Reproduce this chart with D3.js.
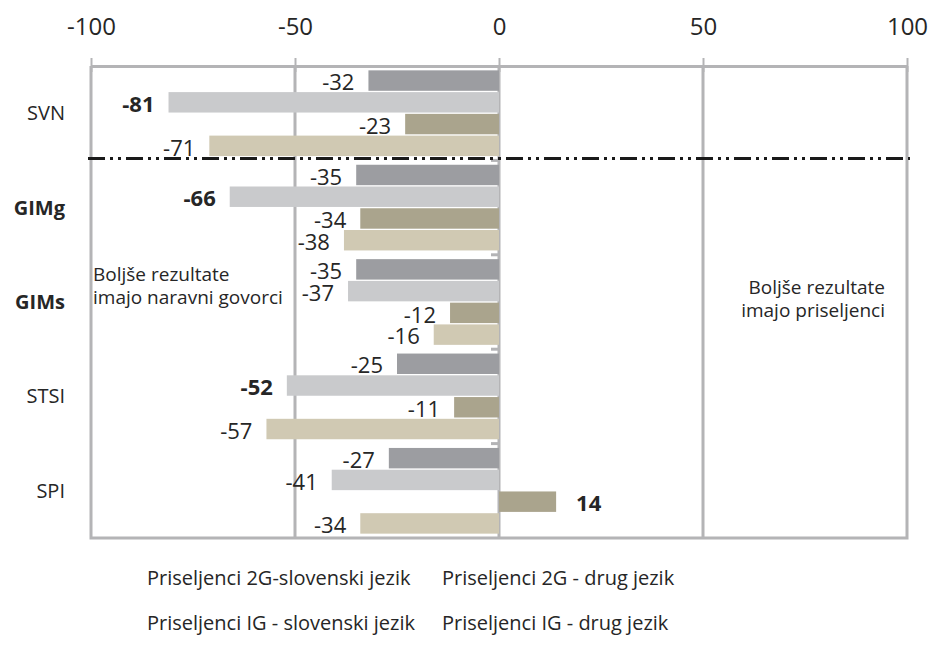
<!DOCTYPE html>
<html>
<head>
<meta charset="utf-8">
<script src="https://cdn.jsdelivr.net/npm/d3@7"></script>
<style>
  body { margin: 0; background: #fff; }
  svg { display: block; }
  text { font-family: "Open Sans", "Noto Sans", sans-serif; fill: #262626; }
</style>
</head>
<body>
<svg id="chart" width="928" height="657"></svg>
<script>
// ---- data ----
const categories = ["SVN", "GIMg", "GIMs", "STSI", "SPI"];
const boldCategories = ["GIMg", "GIMs"];
const seriesNames = [
  "Priseljenci 2G-slovenski jezik",
  "Priseljenci 2G - drug jezik",
  "Priseljenci IG - slovenski jezik",
  "Priseljenci IG - drug jezik"
];
const s2GSlo   = [-32, -35, -35, -25, -27];
const s2GDrug  = [-81, -66, -37, -52, -41];
const sIGSlo   = [-23, -34, -12, -11, 14];
const sIGDrug  = [-71, -38, -16, -57, -34];
const significant = [["SVN", 1], ["GIMg", 1], ["STSI", 1], ["SPI", 2]];
const tickValues = [-100, -50, 0, 50, 100];
const annotationLeft = ["Boljše rezultate", "imajo naravni govorci"];
const annotationRight = ["Boljše rezultate", "imajo priseljenci"];
const colors = ["#9c9da1", "#c9cacc", "#aaa48d", "#d0c9b3"];

const seriesValues = [s2GSlo, s2GDrug, sIGSlo, sIGDrug];
const rows = [];
categories.forEach((c, ci) => {
  seriesValues.forEach((vals, si) => {
    rows.push({cat: c, s: si, v: vals[ci],
      bold: significant.some(p => p[0] === c && p[1] === si)});
  });
});

// ---- layout ----
const svg = d3.select("#chart");
const pLeft = 91, pRight = 907, pTop = 66, pBottom = 538;
const x = d3.scaleLinear().domain([-100, 100]).range([pLeft, pRight]);
const y = d3.scaleBand().domain(categories).range([pTop, pBottom]).padding(0);
const ys = d3.scaleBand().domain(d3.range(seriesNames.length))
  .range([0, y.bandwidth()]).paddingInner(0.06).paddingOuter(0.2);

const gridColor = "#b4b4b6";

// gridlines
svg.append("g").selectAll("line").data([-50, 0, 50]).join("line")
  .attr("x1", d => x(d)).attr("x2", d => x(d))
  .attr("y1", pTop).attr("y2", pBottom)
  .attr("stroke", gridColor).attr("stroke-width", 3);

// frame left/right/bottom
svg.append("path")
  .attr("d", `M${pLeft},${pTop} V${pBottom} H${pRight} V${pTop}`)
  .attr("fill", "none").attr("stroke", gridColor).attr("stroke-width", 3);

// category ticks on zero line
svg.append("g").selectAll("line").data(categories.slice(1)).join("line")
  .attr("x1", x(0) - 8).attr("x2", x(0))
  .attr("y1", d => y(d)).attr("y2", d => y(d))
  .attr("stroke", gridColor).attr("stroke-width", 3);

// top axis
const axis = d3.axisTop(x).tickValues(tickValues).tickSize(0).tickPadding(0)
  .tickFormat(d => String(d));
const ag = svg.append("g").attr("transform", `translate(0,${pTop})`).call(axis);
ag.select(".domain").attr("stroke", gridColor).attr("stroke-width", 3);
ag.selectAll(".tick line").remove();
ag.selectAll(".tick").append("line")
  .attr("y1", -8).attr("y2", 6).attr("stroke", gridColor).attr("stroke-width", 2);
ag.selectAll(".tick text")
  .attr("y", -31).attr("dy", 0)
  .style("font-size", "24px").style("fill", "#262626")
  .style("font-family", '"Open Sans", sans-serif');

// bars
svg.append("g").selectAll("rect").data(rows).join("rect")
  .attr("x", d => x(Math.min(0, d.v)))
  .attr("width", d => Math.abs(x(d.v) - x(0)))
  .attr("y", d => y(d.cat) + ys(d.s))
  .attr("height", ys.bandwidth())
  .attr("fill", d => colors[d.s]);

// value labels
svg.append("g").selectAll("text").data(rows).join("text")
  .attr("x", d => d.v < 0 ? x(d.v) - 14 : x(d.v) + 20)
  .attr("y", d => y(d.cat) + ys(d.s) + ys.bandwidth() / 2 + 2)
  .attr("dy", "0.35em")
  .attr("text-anchor", d => d.v < 0 ? "end" : "start")
  .style("font-size", "22px")
  .style("font-weight", d => d.bold ? 700 : 400)
  .text(d => d.v);

// category labels
svg.append("g").selectAll("text").data(categories).join("text")
  .attr("x", 65)
  .attr("y", d => y(d) + y.bandwidth() / 2)
  .attr("dy", "0.35em")
  .attr("text-anchor", "end")
  .style("font-size", "20px")
  .style("font-weight", d => boldCategories.includes(d) ? 700 : 400)
  .text(d => d);

// separator dash-dot-dot line
svg.append("line")
  .attr("x1", 88).attr("x2", 910)
  .attr("y1", y("GIMg") - 2).attr("y2", y("GIMg") - 2)
  .attr("stroke", "#1a1a1a").attr("stroke-width", 3)
  .attr("stroke-dasharray", "17,5,3,5,3,5");

// annotations
svg.append("text").attr("x", 93).attr("y", 281)
  .style("font-size", "19px")
  .selectAll("tspan").data(annotationLeft).join("tspan")
  .attr("x", 93).attr("dy", (d, i) => i ? 23 : 0).text(d => d);
svg.append("text").attr("x", 885).attr("y", 294)
  .attr("text-anchor", "end")
  .style("font-size", "19px")
  .selectAll("tspan").data(annotationRight).join("tspan")
  .attr("x", 885).attr("dy", (d, i) => i ? 23 : 0).text(d => d);

// legend (text only)
const legendPos = [[147, 585], [442, 585], [147, 630], [442, 630]];
svg.append("g").selectAll("text").data(seriesNames).join("text")
  .attr("x", (d, i) => legendPos[i][0])
  .attr("y", (d, i) => legendPos[i][1])
  .style("font-size", "20px")
  .text(d => d);
</script>
</body>
</html>
